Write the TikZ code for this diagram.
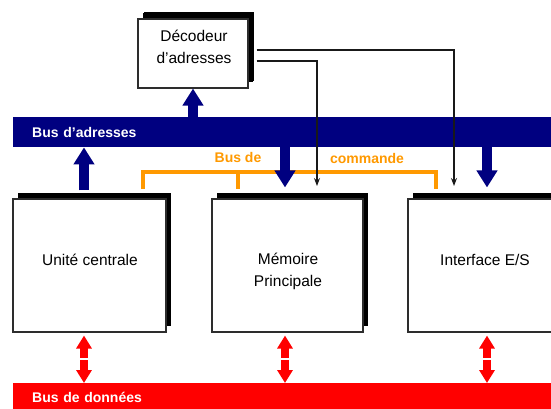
\documentclass[tikz,border=0pt]{standalone}
\usepackage{fontspec}
\setmainfont{Liberation Sans}
\usetikzlibrary{arrows.meta}
\usetikzlibrary{calc}
\usetikzlibrary{shadows}
\definecolor{busblue}{RGB}{0,0,128}
\definecolor{busred}{RGB}{255,0,0}
\definecolor{busorange}{RGB}{255,153,0}
\definecolor{boxline}{RGB}{45,45,45}

\tikzset{
  unit/.style={draw=boxline, line width=1.1pt, fill=white, inner sep=0pt,
    minimum width=153pt, minimum height=133pt,
    drop shadow={shadow xshift=5pt, shadow yshift=6pt, fill=black, opacity=1}},
  unitlabel/.style={font=\fontsize{15.5}{22}\selectfont, align=center, inner sep=0pt},
  bus/.style={anchor=north west, inner xsep=19pt, inner ysep=0pt, text width=540pt,
    align=left, text=white, font=\bfseries\fontsize{14}{16}\selectfont},
  ctrltext/.style={text=busorange, inner sep=0pt, font=\bfseries\fontsize{14}{16}\selectfont},
  adrarrow/.style={draw=busblue, line width=10pt, -{Triangle[length=17pt,width=20pt]}},
  datarrow/.style={draw=busred, line width=8pt,
    {Triangle[length=13pt,width=15pt]}-{Triangle[length=13pt,width=15pt]}},
  datgap/.style={draw=white, line width=2pt},
  ctrlwire/.style={draw=black!90, line width=1.1pt, -{Stealth[length=8pt,width=6pt]}}
}

\begin{document}
\begin{tikzpicture}[x=1pt,y=1pt,yscale=-1,xscale=1]
\useasboundingbox (0,0) rectangle (551,408);
\clip (0,0) rectangle (551,408);

% Buses
\node (adr) [bus, fill=busblue, minimum height=30pt] at (13,117) {Bus d’adresses};
\node (dat) [bus, fill=busred, minimum height=28pt] at (13,383) {Bus de données};

% Units
\node (dec) [unit, minimum width=110pt, minimum height=69pt,
  drop shadow={shadow xshift=6pt, shadow yshift=7pt, fill=black, opacity=1}] at (193,53.5) {};
\node (uc) [unit] at (89.5,265.5) {};
\node (mem) [unit, minimum width=151pt] at (287.5,265.5) {};
\node (ies) [unit] at (484.5,265.5) {};

% Text Node
\node (declabel) [unitlabel] at (194,47) {Décodeur\\d’adresses};
% Text Node
\node (uclabel) [unitlabel] at (90,260) {Unité centrale};
% Text Node
\node (memlabel) [unitlabel] at (288,271) {Mémoire\\Principale};
% Text Node
\node (ieslabel) [unitlabel] at (485,260) {Interface E/S};

% columns of the bus arrows, ends of the select wires
\coordinate (col1) at (84,0);
\coordinate (col2) at (285,0);
\coordinate (col3) at (487,0);
\coordinate (memsel) at (317,186);
\coordinate (iessel) at (454,186);

% Control bus bracket
\draw [busorange, line width=3.5pt] (143,189) -- (143,172) -- (436,172) -- (436,189) ;
\draw [busorange, line width=3.5pt] (238,172) -- (238,189) ;
% Text Node
\node (busde) [ctrltext] at (238,157) {Bus de};
% Text Node
\node (cmd) [ctrltext] at (367,158) {commande};

% Address arrows
\draw [adrarrow] ($(col1 |- uc.north)+(0,-8)$) -- (col1 |- adr.south) ;
\draw [adrarrow] (adr.north -| dec.south) -- (dec.south) ;
\draw [adrarrow] (col2 |- adr.south) -- ($(col2 |- mem.north)+(0,-11)$) ;
\draw [adrarrow] (col3 |- adr.south) -- ($(col3 |- ies.north)+(0,-11)$) ;

% Select wires from the decoder
\draw [ctrlwire] ($(dec.east)+(8,-3.5)$) -| (iessel) ;
\draw [ctrlwire] ($(dec.east)+(8,7.5)$) -| (memsel) ;

% Data arrows
\draw [datarrow] ($(col1 |- uc.south)+(0,3)$) -- (col1 |- dat.north) ;
\draw [datgap] ($(col1 |- uc.south)!0.5!(col1 |- dat.north)+(-6,1.5)$) -- ++(12,0) ;
\draw [datarrow] ($(col2 |- mem.south)+(0,3)$) -- (col2 |- dat.north) ;
\draw [datgap] ($(col2 |- mem.south)!0.5!(col2 |- dat.north)+(-6,1.5)$) -- ++(12,0) ;
\draw [datarrow] ($(col3 |- ies.south)+(0,3)$) -- (col3 |- dat.north) ;
\draw [datgap] ($(col3 |- ies.south)!0.5!(col3 |- dat.north)+(-6,1.5)$) -- ++(12,0) ;

\end{tikzpicture}
\end{document}
